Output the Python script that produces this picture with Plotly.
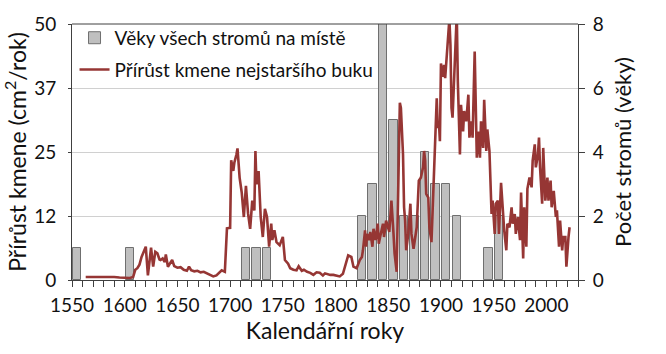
import plotly.graph_objects as go

# Bars: tree ages by decade (count of trees), right axis
bar_decades = [1550, 1600, 1710, 1720, 1730, 1820, 1830, 1840, 1850, 1860, 1870, 1880, 1890, 1900, 1910, 1940, 1950]
bar_counts = [1, 1, 1, 1, 1, 2, 3, 8, 5, 2, 2, 4, 3, 3, 2, 1, 2]

# Line: stem increment of the oldest beech (cm2/year), left axis
line_years = [1563, 1570, 1575, 1580, 1585, 1590, 1595, 1600, 1605, 1608, 1610, 1612, 1614, 1616, 1618, 1620, 1622, 1625, 1627, 1629,
              1631, 1633, 1634, 1636, 1638, 1639, 1641, 1643, 1645, 1647, 1650, 1653, 1656, 1659, 1661, 1663, 1666, 1669, 1672, 1675,
              1678, 1681, 1684, 1687, 1690, 1692, 1695, 1697, 1700, 1701, 1703, 1704, 1706, 1707, 1709, 1711, 1713, 1715, 1717, 1718,
              1719, 1721, 1723, 1724, 1725, 1727, 1729, 1731, 1733, 1735, 1737, 1739, 1740, 1742, 1744, 1747, 1750, 1752, 1755, 1757,
              1760, 1763, 1765, 1768, 1770, 1773, 1776, 1779, 1782, 1785, 1788, 1790, 1792, 1795, 1798, 1801, 1804, 1807, 1809, 1812,
              1815, 1817, 1820, 1823, 1825, 1826, 1828, 1829, 1830, 1832, 1833, 1835, 1836, 1838, 1840, 1841, 1843, 1845, 1846, 1848,
              1851, 1853, 1855, 1856, 1858, 1859, 1861, 1862, 1864, 1865, 1866, 1867, 1869, 1871, 1872, 1874, 1877, 1879, 1881, 1883,
              1884, 1885, 1886, 1888, 1889, 1891, 1893, 1894, 1896, 1897, 1898, 1899, 1900, 1902, 1903, 1904, 1906, 1908, 1909, 1910,
              1911, 1913, 1915, 1916, 1918, 1919, 1921, 1922, 1924, 1926, 1927, 1929, 1930, 1932, 1933, 1934, 1936, 1937, 1938, 1940,
              1941, 1943, 1944, 1946, 1948, 1949, 1951, 1952, 1954, 1955, 1957, 1959, 1960, 1962, 1963, 1965, 1967, 1968, 1970, 1971,
              1973, 1975, 1976, 1978, 1979, 1981, 1982, 1984, 1986, 1987, 1989, 1990, 1992, 1993, 1994, 1996, 1997, 1999, 2001, 2002,
              2004, 2005, 2007, 2009, 2010, 2012, 2013, 2015, 2016, 2018, 2019, 2021, 2022]
line_values = [0.6, 0.6, 0.7, 0.7, 0.6, 0.6, 0.5, 0.5, 0.4, 0.6, 2.0, 2.3, 3.0, 4.5, 5.5, 6.5, 0.9, 6.3, 2.6, 5.5,
               5.2, 4.0, 3.9, 4.2, 3.5, 5.0, 2.6, 3.2, 3.9, 2.7, 2.4, 2.5, 2.0, 1.8, 2.6, 1.9, 1.7, 1.8, 1.5, 1.6,
               1.3, 1.0, 0.7, 0.9, 1.6, 1.9, 1.6, 10.1, 10.2, 23.4, 21.3, 22.9, 24.5, 25.7, 20.0, 17.1, 12.3, 18.4, 13.0, 11.0,
               10.0, 15.5, 13.6, 25.2, 18.7, 21.3, 12.3, 8.4, 13.9, 12.3, 6.5, 11.0, 7.8, 9.7, 7.4, 6.8, 8.4, 3.9, 3.2, 2.3,
               2.0, 1.9, 2.7, 1.8, 2.0, 1.6, 1.4, 1.0, 1.5, 1.4, 0.9, 1.3, 1.2, 1.0, 1.0, 0.9, 0.7, 1.2, 2.6, 4.8,
               4.5, 2.6, 2.3, 3.9, 4.5, 5.8, 9.7, 6.5, 9.0, 7.8, 9.4, 6.5, 10.0, 7.8, 11.0, 7.1, 9.1, 11.0, 8.4, 11.6,
               9.4, 15.5, 9.0, 5.2, 1.6, 14.2, 34.6, 33.6, 24.5, 14.2, 11.6, 5.8, 9.0, 14.9, 9.0, 6.1, 10.3, 19.4, 20.0, 22.0,
               25.2, 23.3, 16.8, 16.1, 10.3, 7.4, 18.1, 27.1, 35.5, 29.7, 31.0, 27.1, 42.3, 39.7, 42.0, 39.4, 45.5, 51.0, 45.9, 33.6,
               31.7, 42.6, 52.0, 38.8, 24.5, 34.2, 29.0, 33.0, 31.0, 36.2, 27.8, 31.0, 27.8, 44.6, 31.0, 23.9, 29.0, 23.9, 31.0, 25.8,
               35.2, 25.2, 29.4, 25.2, 12.9, 15.5, 9.0, 14.9, 15.5, 9.0, 19.0, 12.3, 9.7, 5.8, 11.0, 10.3, 14.2, 11.0, 12.9, 9.0,
               12.3, 7.8, 17.1, 4.2, 14.2, 6.5, 17.8, 20.0, 18.1, 23.3, 26.5, 22.0, 24.5, 27.8, 22.0, 14.9, 25.8, 15.5, 20.0, 15.5,
               19.4, 14.2, 17.4, 12.3, 13.6, 6.5, 11.6, 5.8, 8.4, 8.4, 2.6, 8.4, 10.3]

left_tickvals = [0, 12.5, 25, 37.5, 50]
left_ticktext = ["0", "12", "25", "37", "50"]
right_tickvals = [0, 2, 4, 6, 8]
x_tickvals = [1550, 1600, 1650, 1700, 1750, 1800, 1850, 1900, 1950, 2000]

FONT = "Lato, 'Open Sans', sans-serif"
TXT = "#111111"
TICKFS = 19
TITLEFS = 23

fig = go.Figure()
fig.add_trace(go.Bar(
    x=[d + 5 for d in bar_decades], y=bar_counts, width=8,
    name="Věky všech stromů na místě", legendgroup="a",
    marker=dict(color="#bfbfbf", line=dict(color="#6f6f6f", width=1)),
    yaxis="y",
))
fig.add_trace(go.Scatter(
    x=line_years, y=line_values, mode="lines",
    name="Přírůst kmene nejstaršího buku", legendgroup="b",
    line=dict(color="#963634", width=2.6),
    yaxis="y2",
))

fig.update_layout(
    width=666, height=354,
    margin=dict(l=71, r=88, t=22, b=74),
    paper_bgcolor="white", plot_bgcolor="white",
    font=dict(family=FONT, size=TICKFS, color=TXT),
    showlegend=True,
    legend=dict(x=0.005, y=1.02, xanchor="left", yanchor="top",
                bgcolor="rgba(0,0,0,0)", font=dict(size=19, color=TXT),
                traceorder="grouped", tracegroupgap=4, itemwidth=30),
    bargap=0,
    xaxis=dict(range=[1550, 2030], tickvals=x_tickvals, ticks="outside", ticklen=6,
               tickcolor="#404040", showline=True, linecolor="#404040", linewidth=1,
               showgrid=False, zeroline=False, ticklabelstandoff=2,
               minor=dict(dtick=10, tick0=1550, ticks="outside", ticklen=6, tickcolor="#404040", showgrid=False),
               title=dict(text="Kalendářní roky", font=dict(size=TITLEFS), standoff=4),
               tickfont=dict(size=TICKFS)),
    yaxis=dict(range=[0, 8], tickvals=right_tickvals, side="right", ticks="outside", ticklen=6,
               tickcolor="#404040", showline=True, linecolor="#404040", linewidth=1,
               showgrid=True, gridcolor="#d0d0d0", gridwidth=1, zeroline=False,
               ticklabelstandoff=4,
               title=dict(text="Počet stromů (věky)", font=dict(size=TITLEFS-1), standoff=12),
               tickfont=dict(size=TICKFS)),
    yaxis2=dict(range=[0, 50], tickvals=left_tickvals, ticktext=left_ticktext, side="left",
                overlaying="y", ticks="outside", ticklen=3, tickcolor="#404040",
                showline=True, linecolor="#404040", linewidth=1, showgrid=False, zeroline=False,
                ticklabelstandoff=8,
                title=dict(text="Přírůst kmene (cm<sup>2</sup>/rok)", font=dict(size=TITLEFS), standoff=6),
                tickfont=dict(size=TICKFS)),
    shapes=[dict(type="line", xref="paper", yref="paper", x0=0, x1=1, y0=1, y1=1,
                 line=dict(color="#404040", width=1))],
)

fig.write_html("out.html")
